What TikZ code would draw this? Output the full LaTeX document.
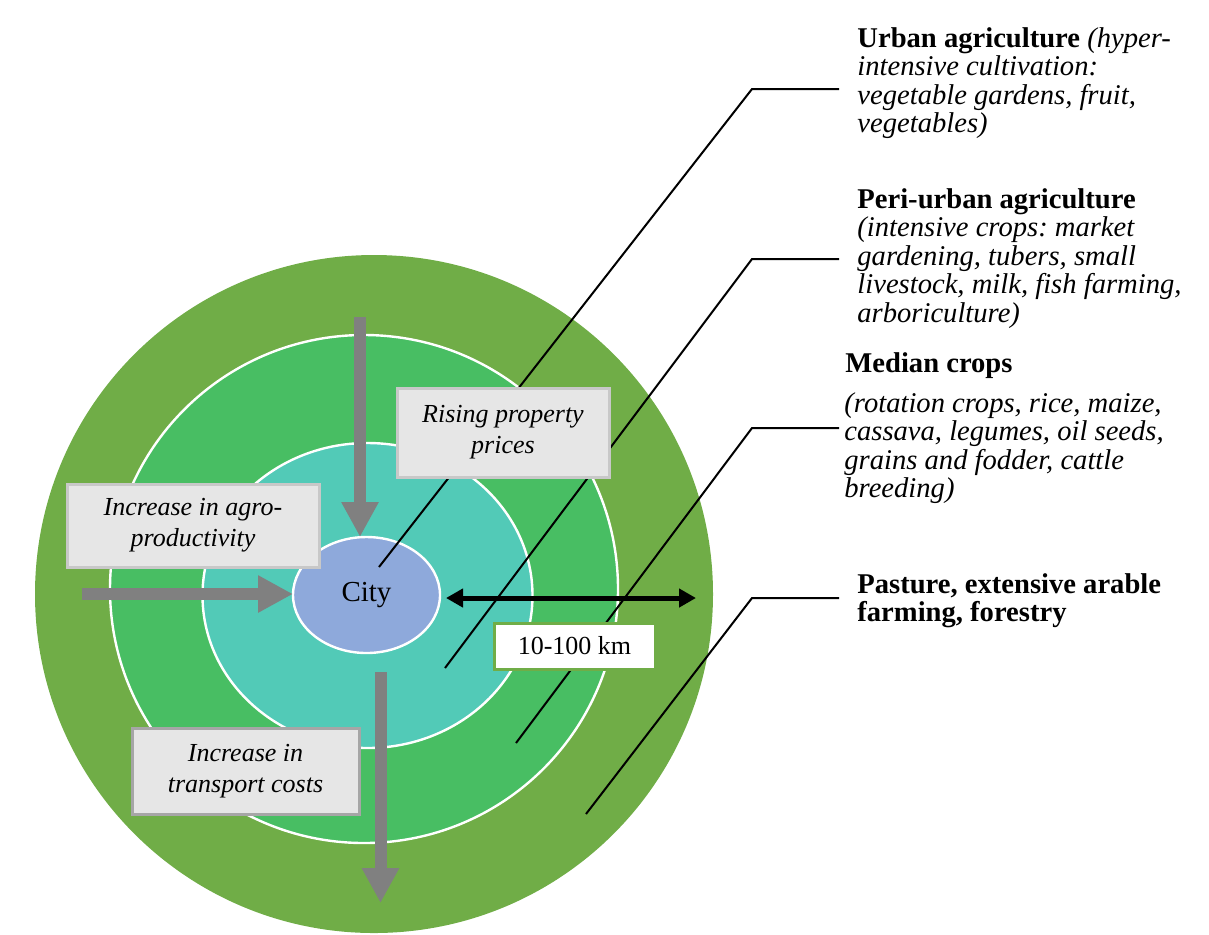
\documentclass[tikz,border=0pt]{standalone}
\usepackage{fontspec}
\setmainfont{Liberation Serif}
\usetikzlibrary{shapes.geometric,arrows.meta}
\frenchspacing
\definecolor{pasture}{HTML}{70AD47}
\definecolor{periurban}{HTML}{48BE63}
\definecolor{median}{HTML}{52CAB7}
\definecolor{citycol}{HTML}{8EA9DB}
\definecolor{flowgray}{HTML}{808080}
\definecolor{boxfill}{HTML}{E6E6E6}
\definecolor{boxline}{HTML}{C8C8C8}
\definecolor{boxlinedark}{HTML}{A6A6A6}
\begin{document}
\begin{tikzpicture}[x=0.5pt,y=-0.5pt,
  ring/.style={ellipse, inner sep=0pt, outer sep=0pt, draw=white, line width=1.2pt},
  infobox/.style={rectangle, fill=boxfill, draw=boxline, line width=1.5pt,
    inner sep=0pt, align=center, font=\fontsize{13}{15.5}\selectfont\itshape},
  flowarrow/.style={draw=flowgray, line width=6pt, -{Triangle[length=17.5pt,width=17.5pt]}},
  callout/.style={draw=black, line width=1pt},
  zonetext/.style={anchor=base west, inner sep=0pt, font=\fontsize{14.3}{14.25}\selectfont}
]
\useasboundingbox (0,0) rectangle (1209,934);

% concentric zones around the city
\node[ring, draw=none, fill=pasture, minimum width=339pt, minimum height=339pt] (pastzone) at (374,594) {};
\node[ring, fill=periurban, minimum width=254pt, minimum height=254pt] (perizone) at (364,589) {};
\node[ring, fill=median, minimum width=165pt, minimum height=152.5pt] (medzone) at (367.5,595.5) {};
\node[ring, fill=citycol, minimum width=73.5pt, minimum height=58pt,
      font=\fontsize{14.5}{16}\selectfont] (city) at (366.5,595) {City};

% leader lines from each zone to its description
\coordinate (l1a) at (379,567);  \coordinate (l1b) at (752,89);  \coordinate (l1c) at (839,89);
\coordinate (l2a) at (445,668);  \coordinate (l2b) at (752,259); \coordinate (l2c) at (839,259);
\coordinate (l3a) at (516,743);  \coordinate (l3b) at (752,428); \coordinate (l3c) at (839,428);
\coordinate (l4a) at (586,814);  \coordinate (l4b) at (752,598); \coordinate (l4c) at (839,598);
\draw[callout] (l1a) -- (l1b) -- (l1c);
\draw[callout] (l2a) -- (l2b) -- (l2c);
\draw[callout] (l3a) -- (l3b) -- (l3c);
\draw[callout] (l4a) -- (l4b) -- (l4c);

% pressure arrows
\coordinate (pricesrc) at (360,317);
\draw[flowarrow] (pricesrc) -- (pricesrc |- city.north);
\coordinate (agrosrc) at (82,594);
\draw[flowarrow] (agrosrc) -- (agrosrc -| city.west);
\coordinate (costsrc) at (380.5,672);
\coordinate (costdst) at (380.5,903);
\draw[flowarrow] (costsrc) -- (costdst);

% distance range
\coordinate (rangeL) at (446,598);
\coordinate (rangeR) at (696,598);
\draw[line width=2.5pt, {Triangle[length=8.5pt,width=9pt]}-{Triangle[length=8.5pt,width=9pt]}] (rangeL) -- (rangeR);

% explanatory boxes
\node[infobox, minimum width=106pt, minimum height=44.5pt] (prices) at (503,432.5) {Rising property\\prices};
\node[infobox, minimum width=126pt, minimum height=41.5pt] (agro) at (193,525.5) {Increase in agro-\\productivity};
\node[infobox, draw=boxlinedark, minimum width=113.5pt, minimum height=43pt] (costs) at (245.5,771) {Increase in\\transport costs};
\node[rectangle, fill=white, draw=pasture, line width=1.5pt, inner sep=0pt,
      minimum width=80.5pt, minimum height=23pt, font=\fontsize{13}{15}\selectfont] (range) at (574.5,646) {10-100 km};

% zone descriptions
\node[zonetext] (urban) at (857,47) {\vtop{%
  \hbox{\bfseries Urban agriculture \itshape\mdseries(hyper-}%
  \hbox{\itshape intensive cultivation:}%
  \hbox{\itshape vegetable gardens, fruit,}%
  \hbox{\itshape vegetables)}}};
\node[zonetext] (peri) at (857,208) {\vtop{%
  \hbox{\bfseries Peri-urban agriculture}%
  \hbox{\itshape (intensive crops: market}%
  \hbox{\itshape gardening, tubers, small}%
  \hbox{\itshape livestock, milk, fish farming,}%
  \hbox{\itshape arboriculture)}}};
\node[zonetext] (medtitle) at (845,372) {\bfseries Median crops};
\node[zonetext] (meddesc) at (844,412) {\vtop{%
  \hbox{\itshape (rotation crops, rice, maize,}%
  \hbox{\itshape cassava, legumes, oil seeds,}%
  \hbox{\itshape grains and fodder, cattle}%
  \hbox{\itshape breeding)}}};
\node[zonetext] (pasture) at (857,593) {\vtop{%
  \hbox{\bfseries Pasture, extensive arable}%
  \hbox{\bfseries farming, forestry}}};
\end{tikzpicture}
\end{document}
